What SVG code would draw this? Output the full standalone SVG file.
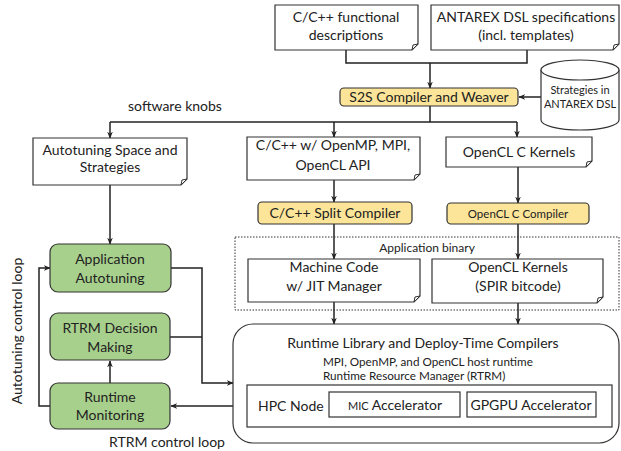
<svg xmlns="http://www.w3.org/2000/svg" width="621" height="451" viewBox="0 0 621 451">
<defs>
<style>
text{font-family:Lato,"Open Sans","Liberation Sans",sans-serif;fill:#222;text-anchor:middle}
.t{font-size:14px}
.s{font-size:11.7px}
.xs{font-size:11.5px}
.note{fill:#fff;stroke:#333;stroke-width:1.2}
.fold{fill:#fff;stroke:#333;stroke-width:1}
.yel{fill:#FCE598;stroke:#333;stroke-width:1.2}
.grn{fill:#A8D08D;stroke:#333;stroke-width:1.2}
.box{fill:#fff;stroke:#333;stroke-width:1.2}
.c{fill:none;stroke:#222;stroke-width:1.5}
</style>
<marker id="a" viewBox="0 0 10 10" refX="9" refY="5" markerWidth="7" markerHeight="7" orient="auto" markerUnits="userSpaceOnUse">
<path d="M0,1 L10,5 L0,9 L3,5 Z" fill="#222"/>
</marker>
</defs>
<rect width="621" height="451" fill="#fff"/>

<g id="connectors">
<path class="c" d="M346,50 V63 H527 V50"/>
<path class="c" d="M430,63 V88" marker-end="url(#a)"/>
<path class="c" d="M541,97 H519" marker-end="url(#a)"/>
<path class="c" d="M430,106 V122"/>
<path class="c" d="M110,122 H517"/>
<path class="c" d="M110,122 V138" marker-end="url(#a)"/>
<path class="c" d="M334,122 V137" marker-end="url(#a)"/>
<path class="c" d="M517,122 V137" marker-end="url(#a)"/>
<path class="c" d="M334,180 V202" marker-end="url(#a)"/>
<path class="c" d="M518,167 V203" marker-end="url(#a)"/>
<path class="c" d="M334,224 V259" marker-end="url(#a)"/>
<path class="c" d="M518,224 V259" marker-end="url(#a)"/>
<path class="c" d="M334,302 V324" marker-end="url(#a)"/>
<path class="c" d="M518,303 V324" marker-end="url(#a)"/>
<path class="c" d="M110,185 V244" marker-end="url(#a)"/>
<path class="c" d="M110,383 V361" marker-end="url(#a)"/>
<path class="c" d="M50,406 H39 V268 H50" marker-end="url(#a)"/>
<path class="c" d="M171,268 H202 V383 H233" marker-end="url(#a)"/>
<path class="c" d="M170,337 H202"/>
<path class="c" d="M247,406 H171" marker-end="url(#a)"/>
</g>

<g id="cfunc">
<path class="note" d="M275,5 H418 V44 L412,50 H275 Z"/>
<path class="fold" d="M418,44 L413,45 L412,50 Z"/>
<text class="t" x="346" y="22">C/C++ functional</text>
<text class="t" x="346" y="40">descriptions</text>
</g>

<g id="dslspec">
<path class="note" d="M431,5 H619 V44 L613,50 H431 Z"/>
<path class="fold" d="M619,44 L614,45 L613,50 Z"/>
<text class="t" x="526" y="22">ANTAREX DSL specifications</text>
<text class="t" x="526" y="40">(incl. templates)</text>
</g>

<g id="s2s">
<rect class="yel" x="340" y="88" width="178" height="18" rx="4"/>
<text class="t" x="429" y="102">S2S Compiler and Weaver</text>
</g>

<g id="strategies">
<path class="box" d="M541,70 V120 A39,10 0 0 0 619,120 V70"/>
<ellipse class="box" cx="580" cy="70" rx="39" ry="10"/>
<text class="s" x="580" y="94" style="font-size:11px">Strategies in</text>
<text class="s" x="580" y="108" style="font-size:11px">ANTAREX DSL</text>
</g>

<text class="t" x="175" y="111">software knobs</text>

<g id="atspace">
<path class="note" d="M33,138 H187 V179 L181,185 H33 Z"/>
<path class="fold" d="M187,179 L182,180 L181,185 Z"/>
<text class="t" x="110" y="155">Autotuning Space and</text>
<text class="t" x="110" y="172">Strategies</text>
</g>

<g id="cpp">
<path class="note" d="M247,137 H420 V174 L414,180 H247 Z"/>
<path class="fold" d="M420,174 L415,175 L414,180 Z"/>
<text class="t" x="333" y="150">C/C++ w/ OpenMP, MPI,</text>
<text class="t" x="333" y="170">OpenCL API</text>
</g>

<g id="oclk">
<path class="note" d="M446,137 H592 V161 L586,167 H446 Z"/>
<path class="fold" d="M592,161 L587,162 L586,167 Z"/>
<text class="t" x="519" y="157">OpenCL C Kernels</text>
</g>

<g id="split">
<rect class="yel" x="258" y="202" width="154" height="22" rx="4"/>
<text class="t" x="335" y="218">C/C++ Split Compiler</text>
</g>

<g id="oclc">
<rect class="yel" x="447" y="203" width="142" height="21" rx="4"/>
<text class="xs" x="518" y="218">OpenCL C Compiler</text>
</g>

<g id="appbin">
<rect x="235" y="237" width="384" height="73" fill="none" stroke="#333" stroke-width="1" stroke-dasharray="1.5,1.5"/>
<text class="xs" x="427" y="252" style="font-size:12px">Application binary</text>
</g>

<g id="mcode">
<path class="note" d="M248,259 H420 V296 L414,302 H248 Z"/>
<path class="fold" d="M420,296 L415,297 L414,302 Z"/>
<text class="t" x="334" y="272">Machine Code</text>
<text class="t" x="334" y="291">w/ JIT Manager</text>
</g>

<g id="spir">
<path class="note" d="M432,259 H603 V297 L597,303 H432 Z"/>
<path class="fold" d="M603,297 L598,298 L597,303 Z"/>
<text class="t" x="518" y="272">OpenCL Kernels</text>
<text class="t" x="518" y="291">(SPIR bitcode)</text>
</g>

<g id="runtime">
<rect class="box" x="233" y="324" width="386" height="119" rx="20"/>
<text class="t" x="423" y="348">Runtime Library and Deploy-Time Compilers</text>
<text class="s" x="323" y="366" style="text-anchor:start">MPI, OpenMP, and OpenCL host runtime</text>
<text class="s" x="323" y="380" style="text-anchor:start">Runtime Resource Manager (RTRM)</text>
</g>

<g id="hpc">
<rect class="box" x="247" y="385" width="365" height="42"/>
<text class="t" x="258" y="411" style="text-anchor:start">HPC Node</text>
</g>

<g id="mic">
<rect class="box" x="329" y="392" width="131" height="25"/>
<text class="t" x="395" y="410"><tspan font-size="11">MIC</tspan> Accelerator</text>
</g>

<g id="gpgpu">
<rect class="box" x="467" y="392" width="129" height="25"/>
<text class="t" x="531" y="410">GPGPU Accelerator</text>
</g>

<g id="appat">
<rect class="grn" x="50" y="244" width="121" height="48" rx="8"/>
<text class="t" x="110" y="264">Application</text>
<text class="t" x="110" y="283">Autotuning</text>
</g>

<g id="rtrmdm">
<rect class="grn" x="50" y="313" width="120" height="47" rx="8"/>
<text class="t" x="110" y="333">RTRM Decision</text>
<text class="t" x="110" y="352">Making</text>
</g>

<g id="rtmon">
<rect class="grn" x="50" y="383" width="120" height="46" rx="8"/>
<text class="t" x="110" y="402">Runtime</text>
<text class="t" x="110" y="420">Monitoring</text>
</g>

<text class="t" transform="translate(22,331) rotate(-90)">Autotuning control loop</text>
<text class="t" x="167" y="447">RTRM control loop</text>
</svg>
